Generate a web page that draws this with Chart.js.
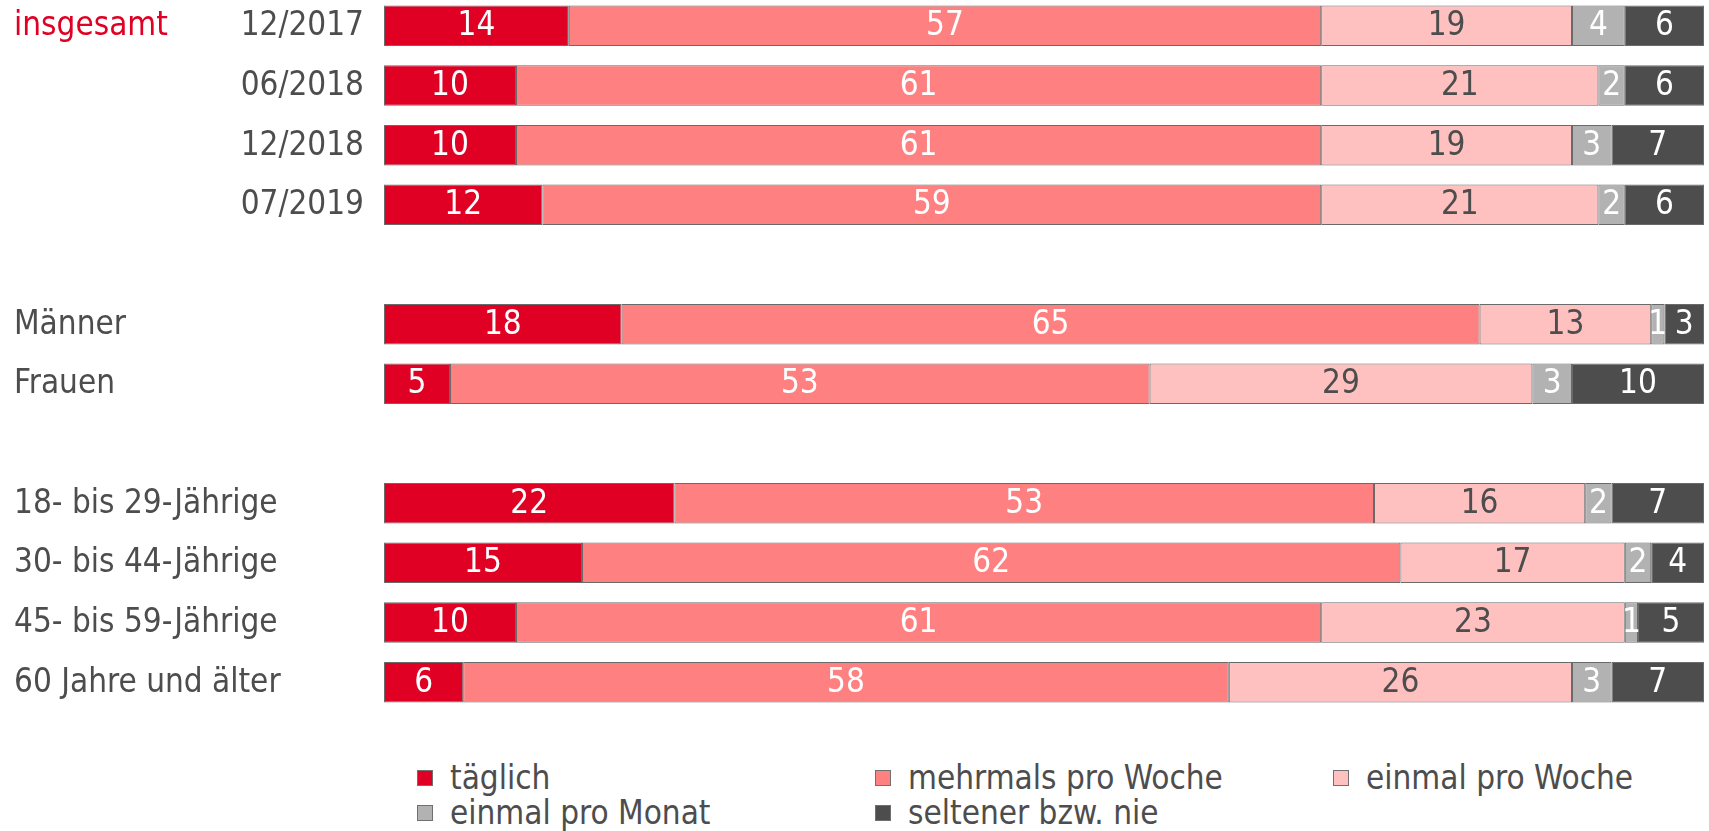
<!DOCTYPE html>
<html lang="de">
<head>
<meta charset="utf-8">
<script src="https://cdn.jsdelivr.net/npm/chart.js@4"></script>
<style>
  html, body { margin: 0; padding: 0; background: #fff; }
  body { width: 1709px; height: 831px; position: relative; overflow: hidden; font-family: "DejaVu Sans Condensed", "DejaVu Sans", Verdana, sans-serif; }
  #wrap { position: absolute; left: 0; top: -4px; width: 1709px; height: 716px; }
  #legende { position: absolute; left: 417px; top: 760px; width: 1292px; display: grid; grid-template-columns: 458px 458px 376px; row-gap: 0px; }
  .item { display: flex; align-items: center; height: 35px; font-size: 33px; color: #4d4d4d; white-space: nowrap; }
  .box { width: 14px; height: 14px; border: 1px solid #707070; margin-right: 17px; flex: none; }
</style>
</head>
<body>
<div id="wrap"><canvas id="grafik"></canvas></div>
<div id="legende"></div>
<script>
// Kategorien (leere Einträge = Abstand zwischen den Gruppen)
const kategorien = ["12/2017", "06/2018", "12/2018", "07/2019", "", "Männer", "Frauen", "", "18- bis 29-Jährige", "30- bis 44-Jährige", "45- bis 59-Jährige", "60 Jahre und älter"];
const gruppenLabel = "insgesamt";
const anzahlZeitpunkte = 4; // die ersten 4 Zeilen gehören zu "insgesamt"

// Werte in Prozent
const taeglich         = [14, 10, 10, 12, null, 18, 5, null, 22, 15, 10, 6];
const mehrmalsWoche    = [57, 61, 61, 59, null, 65, 53, null, 53, 62, 61, 58];
const einmalWoche      = [19, 21, 19, 21, null, 13, 29, null, 16, 17, 23, 26];
const einmalMonat      = [4, 2, 3, 2, null, 1, 3, null, 2, 2, 1, 3];
const seltener         = [6, 6, 7, 6, null, 3, 10, null, 7, 4, 5, 7];

const serien = [
  { label: "täglich", data: taeglich, farbe: "#e00024", text: "#ffffff" },
  { label: "mehrmals pro Woche", data: mehrmalsWoche, farbe: "#ff8080", text: "#ffffff" },
  { label: "einmal pro Woche", data: einmalWoche, farbe: "#ffc0c0", text: "#4d4d4d" },
  { label: "einmal pro Monat", data: einmalMonat, farbe: "#b2b2b2", text: "#ffffff" },
  { label: "seltener bzw. nie", data: seltener, farbe: "#4d4d4d", text: "#ffffff" }
];

const schrift = '33px "DejaVu Sans Condensed", "DejaVu Sans", Verdana, sans-serif';

// Zahlen in die Balken schreiben
const wertePlugin = {
  id: "werte",
  afterDatasetsDraw(chart) {
    const ctx = chart.ctx;
    ctx.save();
    ctx.font = schrift;
    ctx.textAlign = "center";
    ctx.textBaseline = "middle";
    chart.data.datasets.forEach((ds, i) => {
      const meta = chart.getDatasetMeta(i);
      meta.data.forEach((bar, j) => {
        const v = ds.data[j];
        if (v === null || v === undefined) return;
        const p = bar.getProps(["x", "y", "base"], true);
        ctx.fillStyle = serien[i].text;
        ctx.fillText(String(v), (p.x + p.base) / 2, p.y + 1);
      });
    });
    ctx.restore();
  }
};

// Beschriftung links (Gruppen + Zeitpunkte)
const zeilenPlugin = {
  id: "zeilen",
  afterDraw(chart) {
    const ctx = chart.ctx;
    const y = chart.scales.y;
    ctx.save();
    ctx.font = schrift;
    ctx.textBaseline = "middle";
    kategorien.forEach((k, i) => {
      if (!k) return;
      const py = y.getPixelForValue(i) + 1;
      if (i < anzahlZeitpunkte) {
        ctx.textAlign = "right";
        ctx.fillStyle = "#4d4d4d";
        ctx.fillText(k, 364, py);
        if (i === 0) {
          ctx.textAlign = "left";
          ctx.fillStyle = "#e00024";
          ctx.fillText(gruppenLabel, 14, py);
        }
      } else {
        ctx.textAlign = "left";
        ctx.fillStyle = "#4d4d4d";
        ctx.fillText(k, 14, py);
      }
    });
    ctx.restore();
  }
};

new Chart(document.getElementById("grafik").getContext("2d"), {
  type: "bar",
  data: {
    labels: kategorien,
    datasets: serien.map(s => ({
      label: s.label,
      data: s.data,
      backgroundColor: s.farbe,
      borderColor: "#6a6a6a",
      borderWidth: 1,
      borderSkipped: false,
      barPercentage: 0.68,
      categoryPercentage: 1
    }))
  },
  options: {
    indexAxis: "y",
    responsive: true,
    maintainAspectRatio: false,
    animation: false,
    layout: { padding: { left: 384, right: 5, top: 0, bottom: 0 } },
    plugins: {
      legend: { display: false },
      tooltip: { enabled: false }
    },
    scales: {
      x: { stacked: true, min: 0, max: 100, display: false },
      y: { stacked: true, display: false }
    }
  },
  plugins: [wertePlugin, zeilenPlugin]
});

// Legende als HTML
const legende = document.getElementById("legende");
serien.forEach(s => {
  const el = document.createElement("div");
  el.className = "item";
  const box = document.createElement("span");
  box.className = "box";
  box.style.background = s.farbe;
  el.appendChild(box);
  el.appendChild(document.createTextNode(s.label));
  legende.appendChild(el);
});
</script>
</body>
</html>
